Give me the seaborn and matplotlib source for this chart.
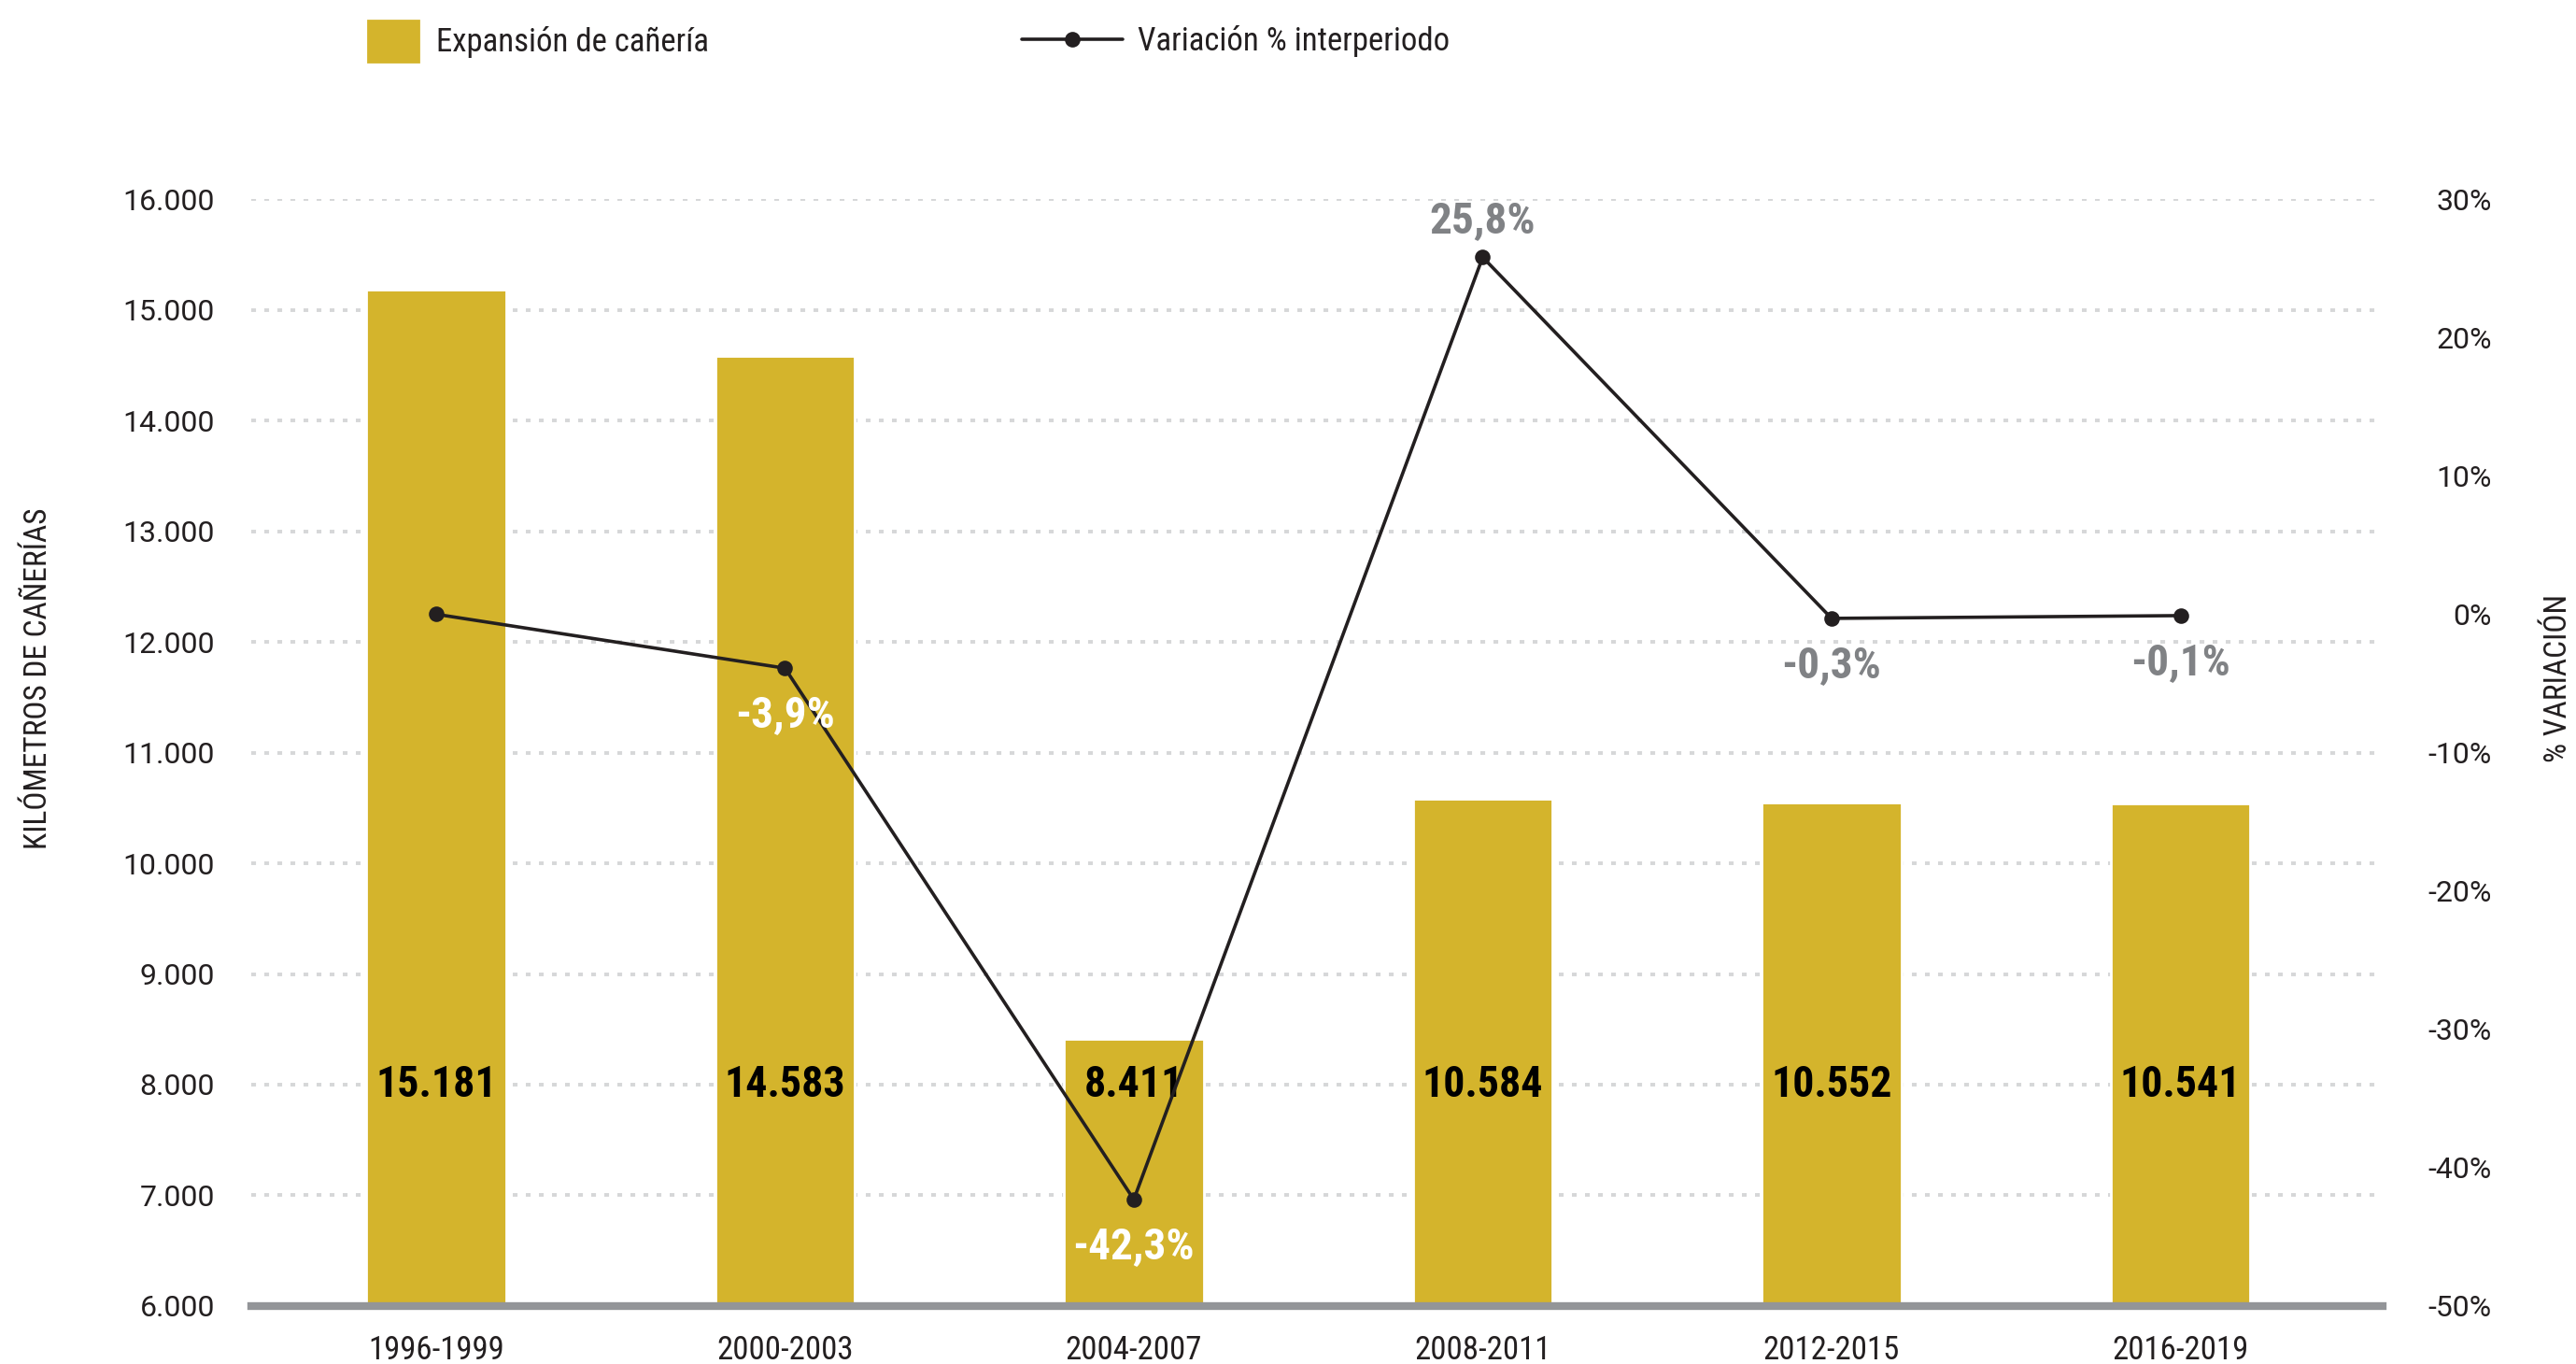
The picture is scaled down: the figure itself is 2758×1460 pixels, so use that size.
import numpy as np
import pandas as pd
import matplotlib
matplotlib.use('Agg')
import matplotlib.pyplot as plt
import seaborn as sns
from matplotlib.patches import Patch
from matplotlib.lines import Line2D

# ── DATA ──────────────────────────────────────────────────────────────────────
periodos   = ["1996-1999", "2000-2003", "2004-2007", "2008-2011", "2012-2015", "2016-2019"]
km_caneria = [15181, 14583, 8411, 10584, 10552, 10541]
variacion  = [0.0, -3.9, -42.3, 25.8, -0.3, -0.1]
km_ticks   = [6000, 7000, 8000, 9000, 10000, 11000, 12000, 13000, 14000, 15000, 16000]
pct_ticks  = [-50, -40, -30, -20, -10, 0, 10, 20, 30]
# ─────────────────────────────────────────────────────────────────────────────

GOLD   = "#D4B42C"
LINE_C = "#231F20"
GRID_C = "#D6D7D8"
AXIS_C = "#939598"
PCT_GRAY = "#808285"
# label colour for each % annotation (None = not shown)
pct_colors = [None, "white", "white", PCT_GRAY, PCT_GRAY, PCT_GRAY]

sns.set_theme(style="white")
plt.rcParams['font.family'] = ['Roboto', 'DejaVu Sans']
NARROW = ['Roboto Condensed', 'Liberation Sans Narrow', 'DejaVu Sans']

df = pd.DataFrame({"periodo": periodos, "km": km_caneria, "var": variacion})

fig = plt.figure(figsize=(13.79, 7.3), dpi=200)
ax = fig.add_axes([0.0975, 0.0425, 0.8275, 0.8115])

sns.barplot(data=df, x="periodo", y="km", color=GOLD, saturation=1,
            width=0.4, ax=ax, errorbar=None)
ax.set_axisbelow(True)
ax.yaxis.grid(True, color=GRID_C, linewidth=1.4, linestyle=(0, (1.3, 2.3)))
ax.xaxis.grid(False)
ax.set_ylim(6000, 16000)
ax.set_yticks(km_ticks)
ax.set_yticklabels([f"{t:,}".replace(",", ".") for t in km_ticks])
ax.tick_params(axis='y', length=0, pad=14, labelsize=11.5, labelcolor='#231F20')
ax.tick_params(axis='x', length=0, pad=11)
for lab in ax.get_xticklabels():
    lab.set_family(NARROW)
    lab.set_fontsize(12.5)
    lab.set_color('#231F20')
ax.set_xlabel("")
ax.set_ylabel("KILÓMETROS DE CAÑERÍAS", family=NARROW, fontsize=12, color='#231F20')
ax.yaxis.set_label_coords(-0.093, 0.567)
for s in ["top", "left", "right"]:
    ax.spines[s].set_visible(False)
ax.spines["bottom"].set_color(AXIS_C)
ax.spines["bottom"].set_linewidth(3)

# bar value labels
for i, v in enumerate(km_caneria):
    ax.text(i, 8000, f"{v:,}".replace(",", "."), ha='center', va='center',
            fontsize=16.5, fontweight='bold', family=NARROW, color='black', zorder=5)

# line on secondary axis
ax2 = ax.twinx()
sns.pointplot(data=df, x="periodo", y="var", ax=ax2, color=LINE_C, markers='o',
              markersize=5, linewidth=1.3, errorbar=None)
ax2.set_ylim(-50, 30)
ax2.set_yticks(pct_ticks)
ax2.set_yticklabels([f"{t}%" for t in pct_ticks])
ax2.tick_params(axis='y', length=0, pad=42, labelsize=11.5, labelcolor='#231F20')
for lab in ax2.get_yticklabels():
    lab.set_ha('right')
ax2.set_xlabel("")
ax2.set_ylabel("% VARIACIÓN", family=NARROW, fontsize=12, color='#231F20')
ax2.yaxis.set_label_coords(1.0754, 0.567)
ax2.grid(False)
for s in ax2.spines.values():
    s.set_visible(False)

for i, (v, c) in enumerate(zip(variacion, pct_colors)):
    if c is None:
        continue
    off = 14 if v > 0 else -18
    ax2.annotate(f"{v:.1f}%".replace(".", ","), xy=(i, v), xytext=(0, off),
                 textcoords='offset points', ha='center', va='center',
                 fontsize=17, fontweight='bold', family=NARROW, color=c)

ax.set_xlim(-0.53, 5.58)

# legend
narrow_prop = {'family': NARROW, 'size': 12.5}
fig.legend(handles=[Patch(color=GOLD, label="Expansión de cañería")],
           loc='center left', bbox_to_anchor=(394 / 2758, 0.97), frameon=False,
           handlelength=1.55, handleheight=1.55, handletextpad=0.55,
           borderpad=0, borderaxespad=0, prop=narrow_prop, labelcolor='#231F20')
fig.legend(handles=[Line2D([], [], color=LINE_C, marker='o', markersize=5,
                           linewidth=1.3, label="Variación % interperiodo")],
           loc='center left', bbox_to_anchor=(1094 / 2758, 0.97), frameon=False,
           handlelength=3.1, handletextpad=0.48,
           borderpad=0, borderaxespad=0, prop=narrow_prop, labelcolor='#231F20')

fig.savefig("out.png", dpi=200)
